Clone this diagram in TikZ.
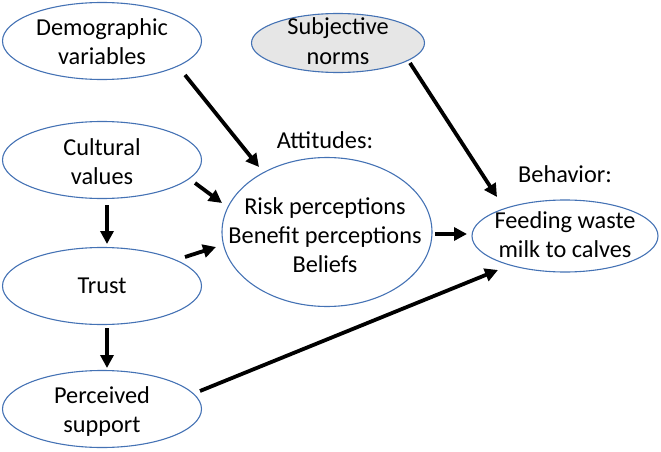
\documentclass[tikz,border=0pt]{standalone}
\usepackage{fontspec}
\setmainfont{Carlito}
\usetikzlibrary{arrows.meta,shapes.geometric}
\definecolor{eblue}{RGB}{68,114,180}
\definecolor{egray}{RGB}{230,230,230}
\newcommand{\mlines}[1]{\begin{tabular}[t]{@{}c@{}}#1\end{tabular}}
\begin{document}
\begin{tikzpicture}[x=1pt,y=-1pt,
  oval/.style={ellipse,draw=eblue,line width=1.1pt,inner sep=0pt},
  txt/.style={anchor=base,inner sep=0pt,font=\fontsize{24.3}{29}\selectfont},
  arr/.style={line width=3.8pt,-{Triangle[length=13pt,width=13pt]}}]
\useasboundingbox (0,0) rectangle (661,452);
% ellipses
\node[oval,minimum width=199pt,minimum height=77pt] (demo) at (102,41) {};
\node[oval,fill=egray,minimum width=173pt,minimum height=59pt] (subj) at (338,43) {};
\node[oval,minimum width=199pt,minimum height=77pt] (cult) at (102,160) {};
\node[oval,minimum width=199pt,minimum height=77pt] (trust) at (102,286) {};
\node[oval,minimum width=199pt,minimum height=77pt] (supp) at (102,409) {};
\node[oval,minimum width=210pt,minimum height=149pt] (att) at (327,232) {};
\node[oval,minimum width=186pt,minimum height=72pt] (beh) at (565,236) {};
% texts
\node[txt] (demot) at (102,36) {\mlines{Demographic\\variables}};
\node[txt] (subjt) at (338,35) {\mlines{Subjective\\norms}};
\node[txt] (cultt) at (102,155) {\mlines{Cultural\\values}};
\node[txt] (trustt) at (102,293) {Trust};
\node[txt] (suppt) at (102,403) {\mlines{Perceived\\support}};
\node[txt] (attt) at (325,214) {\mlines{Risk perceptions\\Benefit perceptions\\Beliefs}};
\node[txt] (beht) at (565,228) {\mlines{Feeding waste\\milk to calves}};
\node[txt] (attl) at (325,148) {Attitudes:};
\node[txt] (behl) at (565,182) {Behavior:};
% connectors
\coordinate (d1) at (185,75); \coordinate (d2) at (259,167);
\coordinate (c1) at (195,183); \coordinate (c2) at (222,203);
\coordinate (c3) at (107,205); \coordinate (c4) at (107,244);
\coordinate (t1) at (185,257); \coordinate (t2) at (216,247);
\coordinate (t3) at (107,328); \coordinate (t4) at (107,368);
\coordinate (p1) at (200,391); \coordinate (p2) at (498,270);
\coordinate (a1) at (435,234); \coordinate (a2) at (467,234);
\coordinate (s1) at (410,63); \coordinate (s2) at (497,197);
\draw[arr] (d1) -- (d2);
\draw[arr] (c1) -- (c2);
\draw[arr] (c3) -- (c4);
\draw[arr] (t1) -- (t2);
\draw[arr] (t3) -- (t4);
\draw[arr] (p1) -- (p2);
\draw[arr] (a1) -- (a2);
\draw[arr] (s1) -- (s2);
\end{tikzpicture}
\end{document}
